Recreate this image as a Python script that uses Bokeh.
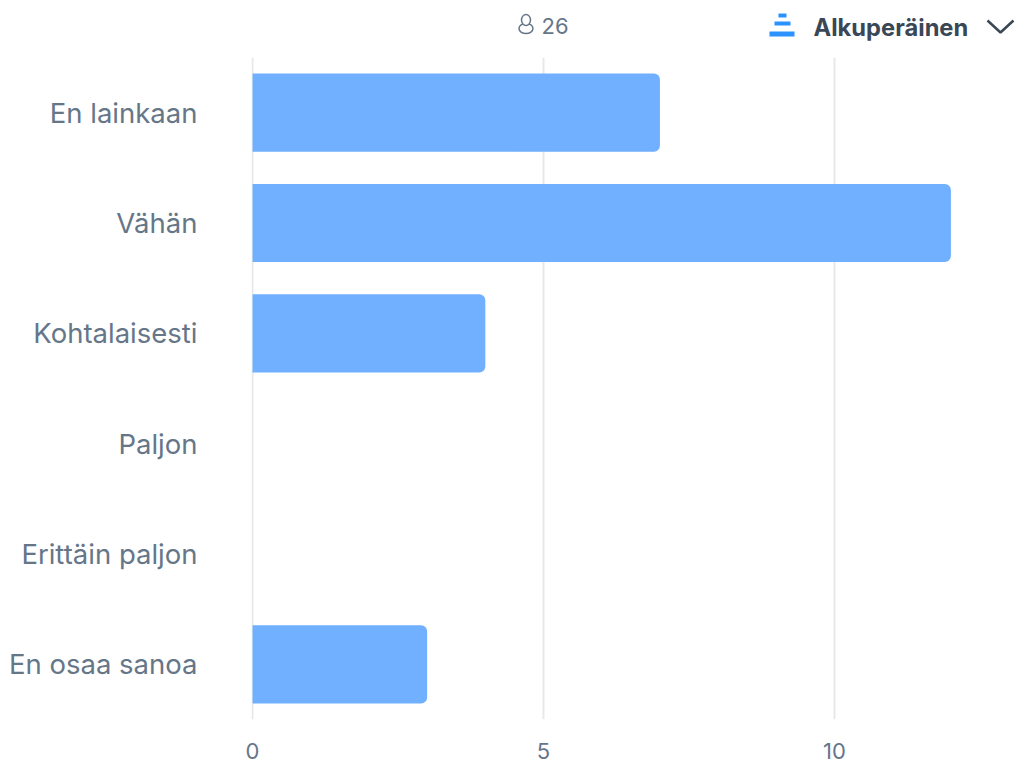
from bokeh.core.properties import value
from bokeh.embed import file_html
from bokeh.layouts import column
from bokeh.models import FactorRange, FixedTicker, Range1d
from bokeh.plotting import figure
from bokeh.resources import INLINE

# Survey answers and respondent counts
categories = ["En lainkaan", "Vähän", "Kohtalaisesti", "Paljon", "Erittäin paljon", "En osaa sanoa"]
counts = [7, 12, 4, 0, 0, 3]
x_ticks = [0, 5, 10]
respondents = "26"
sort_label = "Alkuperäinen"

FONT = "Inter"
BAR = "#70b0ff"
TEXT = "#667689"
DARK = "#3a4757"
GRID = "#e6e9ec"
ACCENT = "#2a93ff"

# Header strip: its frame lines up with the chart's frame, so x runs from 251 to 1016 in page pixels
header = figure(
    width=1016, height=57,
    x_range=Range1d(251, 1016), y_range=Range1d(57, 0),
    output_backend="svg", toolbar_location=None,
    min_border=0, x_axis_location=None, y_axis_location=None,
)
header.outline_line_color = None
header.grid.visible = False

header.text(x=[541], y=[25], text=[respondents], text_font=value(FONT), text_font_size="22px",
            text_color=TEXT, text_baseline="middle")
header.text(x=[813], y=[27], text=[sort_label], text_font=value(FONT), text_font_size="23.7px",
            text_font_style="bold", text_color=DARK, text_baseline="middle")

# Stepped pyramid icon beside the selector
header.quad(left=[778, 774, 769], right=[786, 790, 794], top=[13, 21, 31], bottom=[17, 25, 36],
            color=ACCENT, line_color=None)

# Chevron of the selector
header.line(x=[987, 1000, 1013], y=[20, 32, 20], line_color=DARK, line_width=2.5)

# Outline person icon: shoulders, then the head over them
header.ellipse(x=[525.5], y=[28], width=[14], height=[10], fill_color="white",
               line_color=TEXT, line_width=1.5)
header.ellipse(x=[525.5], y=[19.5], width=[9], height=[11], fill_color="white",
               line_color=TEXT, line_width=1.5)

# Horizontal bar chart of the answers; the x range starts just below zero so the zero line is drawn
p = figure(
    width=1016, height=705,
    frame_width=765, frame_height=662,
    x_range=Range1d(-0.018, 13.127),
    y_range=FactorRange(factors=categories[::-1], range_padding=0, factor_padding=0),
    output_backend="svg", toolbar_location=None,
    min_border_left=251, min_border_right=0, min_border_top=0, min_border_bottom=43,
)
p.outline_line_color = None
p.background_fill_color = "white"

p.hbar(y=categories, right=counts, left=0, height=0.708, color=BAR, line_color=None,
       border_radius=(0, 6, 6, 0))

p.ygrid.visible = False
p.xgrid.ticker = FixedTicker(ticks=x_ticks)
p.xgrid.grid_line_color = GRID
p.xgrid.grid_line_width = 2

for ax in (p.xaxis[0], p.yaxis[0]):
    ax.axis_line_color = None
    ax.major_tick_line_color = None
    ax.minor_tick_line_color = None
    ax.major_tick_out = 0
    ax.major_tick_in = 0
    ax.minor_tick_out = 0
    ax.major_label_text_font = FONT
    ax.major_label_text_color = TEXT
p.xaxis[0].ticker = FixedTicker(ticks=x_ticks)
p.xaxis[0].major_label_text_font_size = "22px"
p.xaxis[0].major_label_standoff = 23
p.yaxis[0].major_label_text_font_size = "27.5px"
p.yaxis[0].major_label_standoff = 54

page = column(header, p, spacing=0)
open("out.html", "w").write(file_html(page, INLINE))
